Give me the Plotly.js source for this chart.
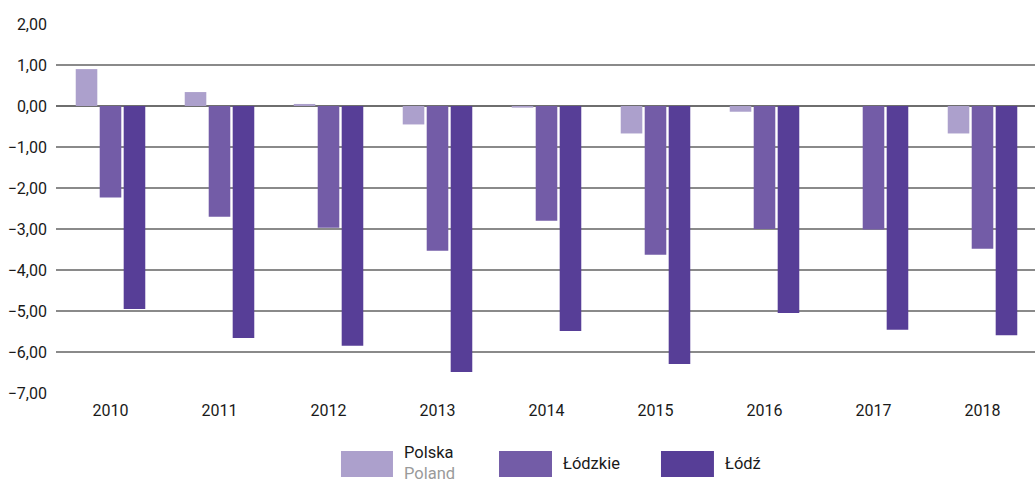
<!DOCTYPE html>
<html><head><meta charset="utf-8">
<script src="https://cdn.plot.ly/plotly-3.0.1.min.js"></script>
<style>html,body{margin:0;padding:0;overflow:hidden;background:#fff}</style>
</head><body>
<div id="chart" style="width:1037px;height:482px"></div>
<script>
const years = ['2010','2011','2012','2013','2014','2015','2016','2017','2018'];
const polska = [0.90, 0.34, 0.05, -0.45, -0.04, -0.67, -0.14, 0.00, -0.67];
const lodzkie = [-2.23, -2.70, -2.97, -3.53, -2.80, -3.63, -3.00, -3.01, -3.48];
const lodz = [-4.95, -5.66, -5.85, -6.49, -5.49, -6.29, -5.05, -5.46, -5.59];
const seriesNames = ['Polska', 'Łódzkie', 'Łódź'];
const seriesSub = ['Poland', '', ''];
const colors = ['#ACA0CC', '#735CA7', '#573E97'];

const FONT = 'Roboto, "Noto Sans", sans-serif';
const data = [polska, lodzkie, lodz].map((v, i) => ({
  type: 'bar', x: years, y: v, name: seriesNames[i],
  marker: {color: colors[i], line: {width: 0}}, hoverinfo: 'x+y'
}));

// custom legend
const swX = [[0.2905, 0.3435], [0.4516, 0.5056], [0.6167, 0.6707]];
const shapes = swX.map((s, i) => ({
  type: 'rect', xref: 'paper', yref: 'paper', x0: s[0], x1: s[1], y0: -0.157, y1: -0.2276,
  fillcolor: colors[i], line: {width: 0}
}));
const annotations = [];
seriesNames.forEach((n, i) => {
  const tx = swX[i][1] + 0.0095;
  if (seriesSub[i]) {
    annotations.push({xref:'paper', yref:'paper', x: tx, y: -0.160, xanchor:'left', yanchor:'middle', showarrow:false, text:n, font:{family:FONT, size:16.5, color:'#1a1a1a'}});
    annotations.push({xref:'paper', yref:'paper', x: tx, y: -0.219, xanchor:'left', yanchor:'middle', showarrow:false, text:seriesSub[i], font:{family:FONT, size:16.5, color:'#9a9a9a'}});
  } else {
    annotations.push({xref:'paper', yref:'paper', x: tx, y: -0.192, xanchor:'left', yanchor:'middle', showarrow:false, text:n, font:{family:FONT, size:16.5, color:'#1a1a1a'}});
  }
});

const layout = {
  width: 1037, height: 482,
  margin: {l: 56, r: 0, t: 24, b: 89},
  paper_bgcolor: '#fff', plot_bgcolor: '#fff',
  separators: ', ',
  font: {family: FONT, size: 16, color: '#1a1a1a'},
  barmode: 'group', bargap: 0.34, bargroupgap: 0.1,
  showlegend: false,
  xaxis: {type: 'category', showgrid: false, showline: false, zeroline: false, ticks: '', tickfont: {size: 16}, ticklabelstandoff: 6},
  yaxis: {range: [-7, 2], dtick: 1, tick0: 0, tickformat: '.2f', showgrid: true, gridcolor: '#8a8a8a', gridwidth: 1.5,
          zeroline: true, zerolinecolor: '#6e6e6e', zerolinewidth: 2, showline: false, ticks: '', ticklen: 0,
          tickfont: {size: 16}, ticklabelstandoff: 8, automargin: false},
  shapes, annotations
};
Plotly.newPlot('chart', data, layout, {displayModeBar: false, staticPlot: true});
</script>
</body></html>
